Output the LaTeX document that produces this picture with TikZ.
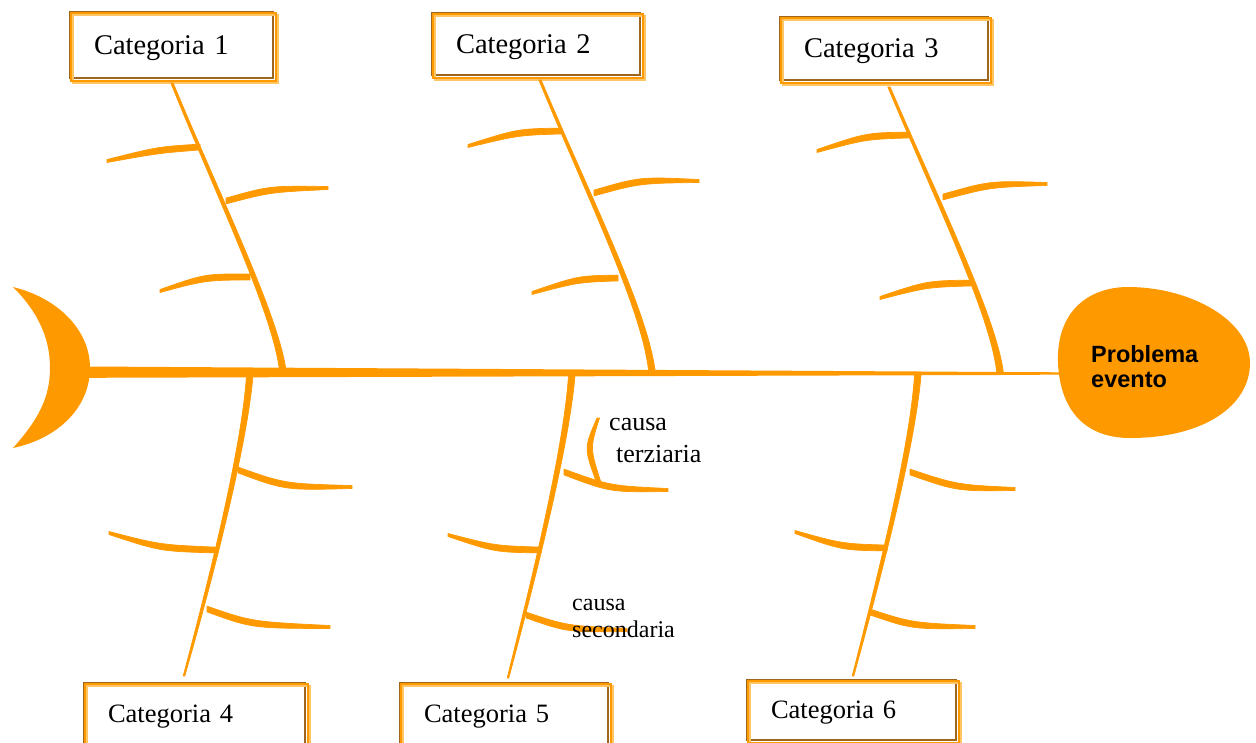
\documentclass[tikz,border=0pt]{standalone}
\usepackage{fontspec}
\setmainfont{Liberation Serif}
\newfontfamily\headfont{Liberation Sans}
\usetikzlibrary{calc}
\definecolor{fishor}{RGB}{255,153,0}
\definecolor{framedark}{RGB}{158,102,28}
\definecolor{framelight}{RGB}{255,196,100}
% tapered bone: #1 end A, #2 ctrl1, #3 ctrl2, #4 end B, #5 half width at A, #6 half width at B
\newcommand\fbone[6]{%
  \filldraw[bonefill] ($(#1)+(-#5,0)$) .. controls ($(#2)+({-(2*#5+#6)/3},0)$) and ($(#3)+({-(#5+2*#6)/3},0)$) .. ($(#4)+(-#6,0)$)
    -- ($(#4)+(#6,0)$) .. controls ($(#3)+({(#5+2*#6)/3},0)$) and ($(#2)+({(2*#5+#6)/3},0)$) .. ($(#1)+(#5,0)$) -- cycle;}
% rib: #1 free end, #2 control, #3 end on the bone
\newcommand\frib[3]{%
  \filldraw[bonefill] ($(#1)+(0,-1.5)$) .. controls ($(#2)+(0,-3.3)$) .. ($(#3)+(0,-2.9)$)
    -- ($(#3)+(0,2.9)$) .. controls ($(#2)+(0,3.3)$) .. ($(#1)+(0,1.5)$) -- cycle;}
\begin{document}
\begin{tikzpicture}[x=1pt,y=-1pt,
  bonefill/.style={fill=fishor,draw=fishor,line width=0.7pt,line join=round},
  catbox/.style={draw=framedark,line width=1.8pt,inner xsep=24pt,inner ysep=0pt,align=left,
    font=\fontsize{28.5}{30}\selectfont,text height=20pt,text depth=2pt},
  catboxlow/.style={catbox,font=\fontsize{26.5}{28}\selectfont,text height=19pt,text depth=2pt},
  shadowa/.style={draw=fishor,line width=1.4pt},
  shadowb/.style={draw=framelight,line width=1.8pt}]
\useasboundingbox (0,0) rectangle (1256,742);
\clip (0,0) rectangle (1256,742);

% category boxes
\node[catbox,text width=155pt,minimum height=66pt] (c1) at (171.5,45) {Categoria 1};
\node[catbox,text width=160pt,minimum height=62pt] (c2) at (536,44) {Categoria 2};
\node[catbox,text width=160pt,minimum height=63pt] (c3) at (884,48.5) {Categoria 3};
\node[catboxlow,text width=173pt,minimum height=62pt] (c4) at (194.5,714) {Categoria 4};
\node[catboxlow,text width=160pt,minimum height=62pt] (c5) at (504,714) {Categoria 5};
\node[catboxlow,text width=161pt,minimum height=60pt] (c6) at (851.5,710) {Categoria 6};
\foreach \c in {c1,c2,c3,c4,c5,c6}{
  \draw[shadowb] ([shift={(4,4)}]\c.north west) rectangle ([shift={(4,4)}]\c.south east);
  \draw[shadowa] ([shift={(2,2)}]\c.north west) rectangle ([shift={(2,2)}]\c.south east);
}

% tail
\fill[fishor] (13,287) .. controls (58,298) and (90,330) .. (90,368)
  .. controls (90,406) and (60,438) .. (13,448)
  .. controls (38,420) and (50,398) .. (50,368)
  .. controls (50,338) and (38,312) .. (13,287) -- cycle;
\coordinate (tail) at (88,372);
\coordinate (neck) at (1062,373.5);
% spine
\fill[fishor] ($(tail)+(0,-5.5)$) -- (1000,372) -- ($(neck)+(0,-1.2)$) -- ($(neck)+(0,1.1)$) -- (1000,375) -- ($(tail)+(0,5.8)$) -- cycle;

% head
\fill[fishor] (1058,363) .. controls (1056,310) and (1090,287) .. (1128,287)
  .. controls (1190,287) and (1250,320) .. (1250,363)
  .. controls (1250,405) and (1205,438) .. (1130,438)
  .. controls (1085,438) and (1060,410) .. (1058,363) -- cycle;
\node[anchor=base west,align=left,inner sep=0pt,font=\headfont\bfseries\fontsize{23.5}{25.5}\selectfont] (prob) at (1091,387.5) {Problema\\evento};

% bone end points
\coordinate (t1) at (172,83);
\coordinate (t2) at (540,80);
\coordinate (t3) at (889,87);
\coordinate (b4) at (184,676);
\coordinate (b5) at (508,678);
\coordinate (b6) at (853,676);

% main bones
\fbone{t1}{222,205}{276,315}{283,372}{1.2}{3.3}
\fbone{t2}{590,200}{645,310}{652,372}{1.2}{3.3}
\fbone{t3}{939,205}{993,315}{1000,372}{1.2}{3.3}
\fbone{250,372}{245,450}{205,600}{b4}{3.3}{0.8}
\fbone{572,372}{567,450}{528,600}{b5}{3.3}{0.8}
\fbone{918,372}{913,450}{873,600}{b6}{3.3}{0.8}

% ribs
\frib{107,161}{158,150}{200,147}
\frib{328,188}{270,189}{226,201}
\frib{160,291}{205,277}{250,277}
\frib{468,146}{518,132}{562,131}
\frib{699,181}{640,180}{594,193}
\frib{532,293}{578,279}{618,278}
\frib{817,151}{866,136}{910,135}
\frib{1047,184}{990,184}{943,197}
\frib{880,298}{927,284}{972,283}
\frib{352,487}{285,487}{238,470}
\frib{109,533}{160,548}{215,550}
\frib{330,627}{252,625}{207,609}
\frib{668,490}{610,489}{564,472}
\frib{448,535}{495,549}{541,550}
\frib{627,630}{567,629}{526,615}
\frib{1015,489}{957,488}{910,472}
\frib{795,532}{842,547}{887,548}
\frib{975,627}{912,626}{870,612}

% tertiary cause
\filldraw[bonefill] (597,418) .. controls (584,448) .. (596,481) -- (600.5,481) .. controls (590,448) .. (599.5,418) -- cycle;

% labels
\node[anchor=base west,align=left,inner sep=0pt,font=\fontsize{26}{32}\selectfont] (ter) at (609,462) {causa\\\hspace*{7pt}terziaria};
\node[anchor=base west,align=left,inner sep=0pt,font=\fontsize{24}{27}\selectfont] (sec) at (572,637) {causa\\secondaria};
\end{tikzpicture}
\end{document}
